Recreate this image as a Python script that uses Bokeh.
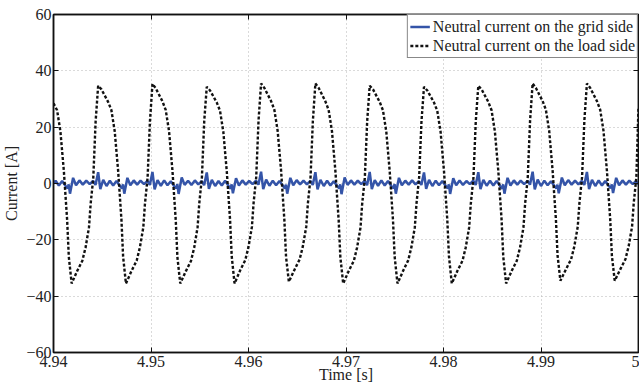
from bokeh.plotting import figure
from bokeh.models import Range1d, FixedTicker, LinearAxis, Legend, LegendItem
from bokeh.embed import file_html
from bokeh.resources import INLINE

# ---------------- data ----------------
x_ticks = [4.94, 4.95, 4.96, 4.97, 4.98, 4.99, 5.0]
x_tick_labels = ["4.94", "4.95", "4.96", "4.97", "4.98", "4.99", "5"]
y_ticks = [-60, -40, -20, 0, 20, 40, 60]
y_tick_labels = ["\u221260", "\u221240", "\u221220", "0", "20", "40", "60"]

series_names = ["Neutral current on the grid side", "Neutral current on the load side"]

# Neutral current on the load side (black dotted)
t_load = [
    4.94000, 4.94037, 4.94071, 4.94106, 4.94140, 4.94157, 4.94186,
    4.94244, 4.94296, 4.94329, 4.94364, 4.94381, 4.94408, 4.94432,
    4.94458, 4.94492, 4.94560, 4.94594, 4.94628, 4.94663, 4.94697, 4.94714, 4.94743,
    4.94801, 4.94853, 4.94886, 4.94921, 4.94938, 4.94965, 4.94989,
    4.95015, 4.95049, 4.95117, 4.95151, 4.95185, 4.95220, 4.95254, 4.95271, 4.95300,
    4.95358, 4.95410, 4.95443, 4.95478, 4.95495, 4.95522, 4.95546,
    4.95572, 4.95606, 4.95674, 4.95708, 4.95742, 4.95777, 4.95811, 4.95828, 4.95857,
    4.95915, 4.95967, 4.96000, 4.96035, 4.96052, 4.96079, 4.96103,
    4.96129, 4.96163, 4.96231, 4.96265, 4.96299, 4.96334, 4.96368, 4.96385, 4.96414,
    4.96472, 4.96524, 4.96557, 4.96592, 4.96609, 4.96636, 4.96660,
    4.96686, 4.96720, 4.96788, 4.96822, 4.96856, 4.96891, 4.96925, 4.96942, 4.96971,
    4.97029, 4.97081, 4.97114, 4.97149, 4.97166, 4.97193, 4.97217,
    4.97243, 4.97277, 4.97345, 4.97379, 4.97413, 4.97448, 4.97482, 4.97499, 4.97528,
    4.97586, 4.97638, 4.97671, 4.97706, 4.97723, 4.97750, 4.97774,
    4.97800, 4.97834, 4.97902, 4.97936, 4.97970, 4.98005, 4.98039, 4.98056, 4.98085,
    4.98143, 4.98195, 4.98228, 4.98263, 4.98280, 4.98307, 4.98331,
    4.98357, 4.98391, 4.98459, 4.98493, 4.98527, 4.98562, 4.98596, 4.98613, 4.98642,
    4.98700, 4.98752, 4.98785, 4.98820, 4.98837, 4.98864, 4.98888,
    4.98914, 4.98948, 4.99016, 4.99050, 4.99084, 4.99119, 4.99153, 4.99170, 4.99199,
    4.99257, 4.99309, 4.99342, 4.99377, 4.99394, 4.99421, 4.99445,
    4.99471, 4.99505, 4.99573, 4.99607, 4.99641, 4.99676, 4.99710, 4.99727, 4.99756,
    4.99814, 4.99866, 4.99899, 4.99934, 4.99951, 4.99978, 5.00000,
]
i_load = [
    28.5, 26.0, 18.5, 4.5, -13.0, -26.0, -35.5,
    -31.0, -27.4, -22.7, -15.6, -7.2, 2.0, 22.0,
    34.7, 33.4, 29.0, 26.0, 18.5, 4.5, -13.0, -26.0, -35.5,
    -31.0, -27.4, -22.7, -15.6, -7.2, 2.0, 22.0,
    35.4, 33.8, 29.2, 26.1, 18.6, 4.6, -13.1, -26.2, -35.5,
    -31.1, -27.5, -22.8, -15.5, -7.1, 2.1, 22.2,
    34.3, 33.0, 28.8, 25.8, 18.3, 4.4, -12.9, -25.9, -35.5,
    -30.8, -27.2, -22.5, -15.4, -7.0, 2.2, 22.4,
    35.5, 33.9, 29.3, 26.2, 18.7, 4.7, -13.0, -26.0, -34.9,
    -30.6, -27.0, -22.4, -15.4, -7.1, 2.0, 22.1,
    35.5, 33.9, 29.2, 26.1, 18.6, 4.5, -13.1, -26.1, -35.5,
    -31.0, -27.4, -22.7, -15.6, -7.2, 2.0, 22.0,
    34.7, 33.4, 29.0, 26.0, 18.5, 4.5, -13.0, -26.0, -35.5,
    -31.0, -27.3, -22.6, -15.5, -7.1, 2.1, 22.0,
    34.3, 33.0, 28.8, 25.8, 18.4, 4.4, -12.9, -25.9, -35.5,
    -31.0, -27.4, -22.7, -15.6, -7.2, 2.0, 22.1,
    34.7, 33.4, 29.0, 26.0, 18.5, 4.5, -13.0, -26.0, -35.5,
    -31.0, -27.4, -22.7, -15.6, -7.2, 2.0, 22.3,
    35.5, 33.9, 29.3, 26.2, 18.7, 4.6, -12.8, -25.6, -34.5,
    -30.4, -26.9, -22.3, -15.3, -7.0, 2.2, 22.5,
    35.5, 33.9, 29.3, 26.2, 18.7, 4.6, -12.8, -25.6, -34.5,
    -30.4, -26.9, -22.3, -15.3, -7.0, 2.2, 27.0,
]

# Neutral current on the grid side (blue solid)
t_grid = [
    4.94000, 4.94021, 4.94055, 4.94089, 4.94123, 4.94146, 4.94156, 4.94169,
    4.94201, 4.94231, 4.94266, 4.94301, 4.94336, 4.94371, 4.94406, 4.94431,
    4.94458, 4.94480, 4.94510, 4.94544, 4.94578, 4.94612, 4.94646, 4.94680, 4.94703, 4.94713, 4.94726,
    4.94758, 4.94788, 4.94823, 4.94858, 4.94893, 4.94928, 4.94963, 4.94988,
    4.95015, 4.95037, 4.95067, 4.95101, 4.95135, 4.95169, 4.95203, 4.95237, 4.95260, 4.95270, 4.95283,
    4.95315, 4.95345, 4.95380, 4.95415, 4.95450, 4.95485, 4.95520, 4.95545,
    4.95572, 4.95594, 4.95624, 4.95658, 4.95692, 4.95726, 4.95760, 4.95794, 4.95817, 4.95827, 4.95840,
    4.95872, 4.95902, 4.95937, 4.95972, 4.96007, 4.96042, 4.96077, 4.96102,
    4.96129, 4.96151, 4.96181, 4.96215, 4.96249, 4.96283, 4.96317, 4.96351, 4.96374, 4.96384, 4.96397,
    4.96429, 4.96459, 4.96494, 4.96529, 4.96564, 4.96599, 4.96634, 4.96659,
    4.96686, 4.96708, 4.96738, 4.96772, 4.96806, 4.96840, 4.96874, 4.96908, 4.96931, 4.96941, 4.96954,
    4.96986, 4.97016, 4.97051, 4.97086, 4.97121, 4.97156, 4.97191, 4.97216,
    4.97243, 4.97265, 4.97295, 4.97329, 4.97363, 4.97397, 4.97431, 4.97465, 4.97488, 4.97498, 4.97511,
    4.97543, 4.97573, 4.97608, 4.97643, 4.97678, 4.97713, 4.97748, 4.97773,
    4.97800, 4.97822, 4.97852, 4.97886, 4.97920, 4.97954, 4.97988, 4.98022, 4.98045, 4.98055, 4.98068,
    4.98100, 4.98130, 4.98165, 4.98200, 4.98235, 4.98270, 4.98305, 4.98330,
    4.98357, 4.98379, 4.98409, 4.98443, 4.98477, 4.98511, 4.98545, 4.98579, 4.98602, 4.98612, 4.98625,
    4.98657, 4.98687, 4.98722, 4.98757, 4.98792, 4.98827, 4.98862, 4.98887,
    4.98914, 4.98936, 4.98966, 4.99000, 4.99034, 4.99068, 4.99102, 4.99136, 4.99159, 4.99169, 4.99182,
    4.99214, 4.99244, 4.99279, 4.99314, 4.99349, 4.99384, 4.99419, 4.99444,
    4.99471, 4.99493, 4.99523, 4.99557, 4.99591, 4.99625, 4.99659, 4.99693, 4.99716, 4.99726, 4.99739,
    4.99771, 4.99801, 4.99836, 4.99871, 4.99906, 4.99941, 4.99976, 5.00000,
]
i_grid = [
    0.0, 1.0, -0.7, 0.9, -0.8, -1.8, -0.3, -3.6,
    2.0, -0.6, 1.1, -0.4, 1.0, -0.2, 0.9, -0.5,
    4.0, -2.0, 1.3, -0.9, 1.0, -0.7, 0.9, -0.8, -1.8, -0.3, -3.6,
    2.0, -0.6, 1.1, -0.4, 1.0, -0.2, 0.9, -0.5,
    4.1, -2.1, 1.2, -0.8, 1.1, -0.6, 0.8, -0.9, -1.7, -0.2, -3.7,
    2.1, -0.5, 1.0, -0.5, 1.1, -0.3, 0.8, -0.6,
    3.9, -1.9, 1.3, -0.9, 0.9, -0.7, 1.0, -0.8, -1.9, -0.3, -3.5,
    1.9, -0.7, 1.1, -0.4, 0.9, -0.2, 1.0, -0.4,
    4.2, -2.0, 1.4, -0.8, 1.0, -0.6, 0.9, -0.7, -1.8, -0.4, -3.6,
    2.0, -0.6, 1.2, -0.3, 1.0, -0.3, 0.9, -0.5,
    4.0, -2.1, 1.3, -0.9, 1.0, -0.7, 0.8, -0.8, -1.8, -0.3, -3.8,
    2.1, -0.5, 1.1, -0.4, 1.0, -0.2, 0.9, -0.6,
    4.1, -2.0, 1.2, -0.8, 1.1, -0.7, 0.9, -0.9, -1.7, -0.2, -3.6,
    2.0, -0.6, 1.0, -0.4, 1.1, -0.3, 0.8, -0.5,
    3.9, -1.9, 1.3, -0.9, 1.0, -0.6, 0.9, -0.8, -1.8, -0.3, -3.7,
    1.9, -0.6, 1.1, -0.5, 0.9, -0.2, 1.0, -0.5,
    4.0, -2.0, 1.3, -0.8, 1.0, -0.7, 0.9, -0.8, -1.9, -0.3, -3.6,
    2.0, -0.7, 1.1, -0.4, 1.0, -0.2, 0.9, -0.4,
    4.2, -2.1, 1.4, -0.9, 1.0, -0.6, 0.8, -0.8, -1.8, -0.4, -3.5,
    2.1, -0.6, 1.2, -0.4, 1.0, -0.3, 0.9, -0.5,
    4.1, -2.0, 1.3, -0.9, 1.1, -0.7, 0.9, -0.8, -1.7, -0.3, -3.4,
    2.0, -0.6, 1.1, -0.4, 1.0, -0.2, 0.9, -0.3,
]

# ---------------- figure ----------------
FONT = "Liberation Serif"
TXT = "#222222"

p = figure(width=639, height=387, output_backend="svg", toolbar_location=None,
           x_range=Range1d(4.94, 5.0), y_range=Range1d(-60, 60),
           min_border_left=52, min_border_right=1, min_border_top=14, min_border_bottom=35)
p.background_fill_color = "white"
p.border_fill_color = "white"
p.outline_line_color = "#111111"
p.outline_line_width = 1.5

def label_map(ticks, labels):
    out = {}
    for t, lab in zip(ticks, labels):
        key = int(t) if float(t) == int(t) else t
        out[key] = lab
    return out

xa = p.xaxis[0]
ya = p.yaxis[0]
xa.ticker = FixedTicker(ticks=x_ticks)
ya.ticker = FixedTicker(ticks=y_ticks)
xa.major_label_overrides = label_map(x_ticks, x_tick_labels)
ya.major_label_overrides = label_map(y_ticks, y_tick_labels)
xa.axis_label = "Time [s]"
ya.axis_label = "Current [A]"

for ax in (xa, ya):
    ax.axis_line_color = "#111111"
    ax.axis_line_width = 1.5
    ax.major_tick_in = 5
    ax.major_tick_out = 0
    ax.major_tick_line_color = "#111111"
    ax.minor_tick_line_color = None
    ax.major_label_text_font = FONT
    ax.major_label_text_font_size = "16px"
    ax.major_label_text_color = TXT
    ax.axis_label_text_font = FONT
    ax.axis_label_text_font_size = "16px"
    ax.axis_label_text_font_style = "normal"
    ax.axis_label_text_color = TXT
xa.major_label_standoff = 3
xa.axis_label_standoff = -4
ya.major_label_standoff = 2
ya.axis_label_standoff = 3

for loc, ticks in (("above", x_ticks), ("right", y_ticks)):
    ax = LinearAxis(ticker=FixedTicker(ticks=ticks))
    ax.axis_line_color = "#111111"
    ax.axis_line_width = 1.5
    ax.major_tick_in = 5
    ax.major_tick_out = 0
    ax.major_tick_line_color = "#111111"
    ax.minor_tick_line_color = None
    ax.major_label_text_color = None
    ax.major_label_text_font_size = "1px"
    ax.major_label_standoff = 0
    p.add_layout(ax, loc)

p.xgrid[0].ticker = FixedTicker(ticks=x_ticks)
p.ygrid[0].ticker = FixedTicker(ticks=y_ticks)
for g in (p.xgrid[0], p.ygrid[0]):
    g.grid_line_color = "#b4b4b4"
    g.grid_line_dash = "1 3"
    g.grid_line_width = 1

r_grid = p.line(t_grid, i_grid, line_color="#3454a8", line_width=2.5)
r_load = p.line(t_load, i_load, line_color="#111111", line_width=2.4, line_dash="3 2")

legend = Legend(items=[LegendItem(label=series_names[0], renderers=[r_grid]),
                       LegendItem(label=series_names[1], renderers=[r_load])],
                location="top_right")
legend.margin = 0
legend.padding = 2
legend.spacing = 0
legend.label_standoff = 3
legend.glyph_width = 20
legend.label_height = 19
legend.glyph_height = 19
legend.label_text_font = FONT
legend.label_text_font_size = "16px"
legend.label_text_color = TXT
legend.border_line_color = "#111111"
legend.border_line_width = 1.5
legend.background_fill_alpha = 1.0
p.add_layout(legend)

open("out.html", "w").write(file_html(p, INLINE))
